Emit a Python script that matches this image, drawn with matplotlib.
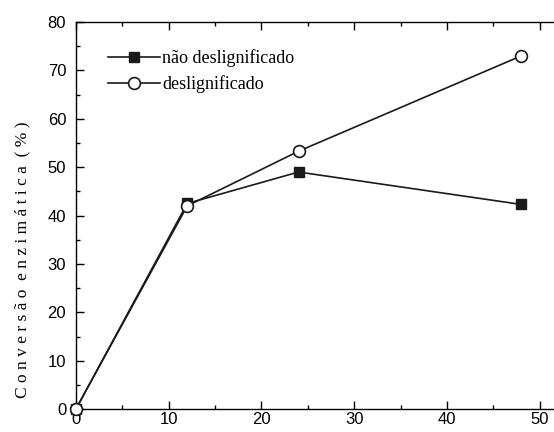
import numpy as np
import matplotlib
matplotlib.use('Agg')
from matplotlib import pyplot as plt
from matplotlib.ticker import MultipleLocator

tempo = [0, 12, 24, 48]
nao_deslig = [0, 42.5, 49, 42.3]
deslig = [0, 42, 53.3, 73]

plt.rcParams['font.family'] = ['Liberation Sans', 'DejaVu Sans']

fig = plt.figure(figsize=(5.54, 4.32), dpi=100)
ax = fig.add_axes([0.137, 0.053, 0.921, 0.896])

ax.plot(tempo, nao_deslig, '-s', color='#1a1a1a', lw=1.2, ms=6.5,
        mfc='#1a1a1a', mec='#1a1a1a', label='não deslignificado', clip_on=False, zorder=3)
ax.plot(tempo, deslig, '-o', color='#1a1a1a', lw=1.2, ms=8.5,
        mfc='white', mec='#1a1a1a', mew=1.2, label='deslignificado', clip_on=False, zorder=4)

ax.set_xlim(0, 55)
ax.set_ylim(0, 80)
ax.xaxis.set_major_locator(MultipleLocator(10))
ax.xaxis.set_minor_locator(MultipleLocator(5))
ax.yaxis.set_major_locator(MultipleLocator(10))
ax.yaxis.set_minor_locator(MultipleLocator(5))
ax.tick_params(which='both', direction='in', top=True, right=True, width=1.0)
ax.tick_params(which='major', length=6, labelsize=12)
ax.tick_params(axis='y', which='major', pad=7)
ax.tick_params(axis='x', which='major', pad=2)
ax.tick_params(which='minor', length=3)
for s in ax.spines.values():
    s.set_linewidth(1.0)

ylab = '  '.join(' '.join(w) for w in ['Conversão', 'enzimática', '(%)'])
ax.set_ylabel(ylab, family=['Liberation Serif', 'DejaVu Serif'], fontsize=12.5)
ax.yaxis.set_label_coords(-0.09, 0.385)

leg = ax.legend(loc='upper left', bbox_to_anchor=(0.063, 0.93), frameon=False,
                prop={'family': ['Liberation Serif', 'DejaVu Serif'], 'size': 13},
                handlelength=2.9, handletextpad=0.1, labelspacing=0.45,
                borderaxespad=0, borderpad=0)

fig.savefig('out.png', dpi=100)
